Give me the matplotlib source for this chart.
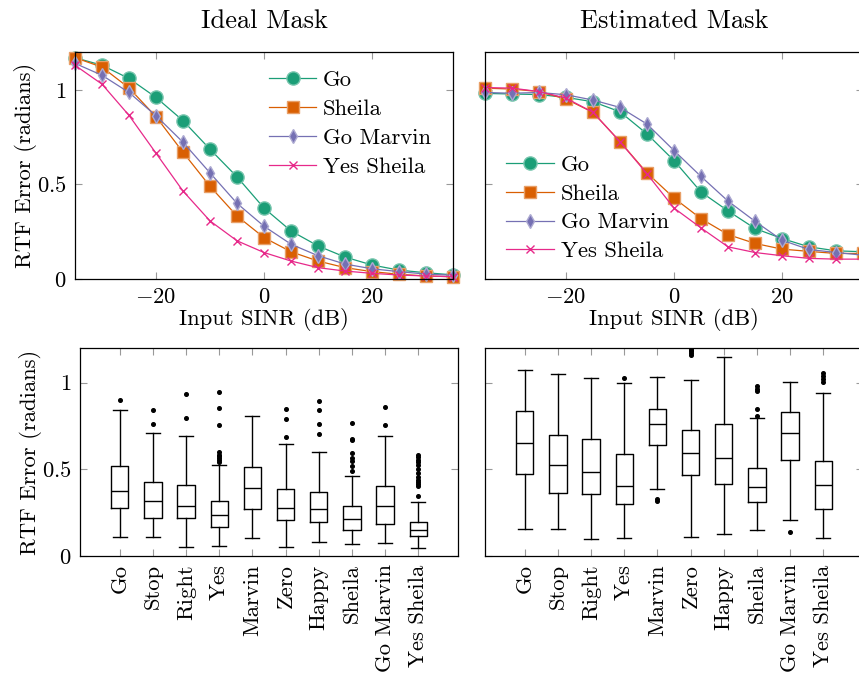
import numpy as np
import matplotlib
matplotlib.use("Agg")
from matplotlib import pyplot as plt
from matplotlib import colors as mcolors

plt.rcParams['font.family'] = 'serif'
plt.rcParams['font.serif'] = ['cmr10']
plt.rcParams['mathtext.fontset'] = 'cm'
plt.rcParams['axes.formatter.use_mathtext'] = True

# ---- data -----------------------------------------------------------
sinr = [-35, -30, -25, -20, -15, -10, -5, 0, 5, 10, 15, 20, 25, 30, 35]
series_names = ['Go', 'Sheila', 'Go Marvin', 'Yes Sheila']

ideal_go = [1.17, 1.13, 1.06, 0.96, 0.837, 0.686, 0.54, 0.375, 0.254, 0.175, 0.116, 0.074, 0.047, 0.033, 0.022]
ideal_sheila = [1.17, 1.12, 1.01, 0.858, 0.67, 0.49, 0.333, 0.219, 0.144, 0.095, 0.06, 0.039, 0.025, 0.016, 0.012]
ideal_gomarvin = [1.14, 1.077, 0.986, 0.863, 0.723, 0.561, 0.40, 0.279, 0.184, 0.123, 0.079, 0.054, 0.039, 0.026, 0.02]
ideal_yessheila = [1.13, 1.03, 0.865, 0.665, 0.465, 0.307, 0.202, 0.14, 0.095, 0.06, 0.042, 0.03, 0.021, 0.016, 0.012]

est_go = [0.981, 0.978, 0.975, 0.96, 0.937, 0.884, 0.767, 0.626, 0.46, 0.36, 0.267, 0.214, 0.17, 0.149, 0.144]
est_sheila = [1.009, 1.004, 0.991, 0.951, 0.881, 0.726, 0.561, 0.428, 0.319, 0.235, 0.188, 0.158, 0.146, 0.135, 0.135]
est_gomarvin = [0.986, 0.982, 0.986, 0.974, 0.946, 0.907, 0.819, 0.679, 0.542, 0.412, 0.305, 0.205, 0.156, 0.14, 0.126]
est_yessheila = [1.012, 1.009, 0.991, 0.956, 0.881, 0.726, 0.556, 0.375, 0.27, 0.17, 0.14, 0.123, 0.109, 0.105, 0.105]

words = ['Go', 'Stop', 'Right', 'Yes', 'Marvin', 'Zero', 'Happy', 'Sheila', 'Go Marvin', 'Yes Sheila']

# box stats: (whislo, q1, med, q3, whishi)
ideal_box = [
    (0.11, 0.275, 0.375, 0.521, 0.842),
    (0.112, 0.219, 0.319, 0.427, 0.708),
    (0.052, 0.217, 0.29, 0.412, 0.692),
    (0.06, 0.169, 0.235, 0.319, 0.523),
    (0.102, 0.273, 0.394, 0.515, 0.81),
    (0.05, 0.206, 0.279, 0.387, 0.646),
    (0.081, 0.194, 0.271, 0.369, 0.602),
    (0.067, 0.152, 0.213, 0.288, 0.463),
    (0.075, 0.187, 0.29, 0.404, 0.69),
    (0.046, 0.115, 0.15, 0.196, 0.31),
]
ideal_fliers = [
    [0.902],
    [0.76, 0.844],
    [0.796, 0.933],
    [0.545, 0.555, 0.565, 0.575, 0.585, 0.6, 0.758, 0.856, 0.948],
    [],
    [0.687, 0.792, 0.85],
    [0.706, 0.763, 0.844, 0.894],
    [0.49, 0.519, 0.548, 0.567, 0.594, 0.667, 0.673, 0.767],
    [0.756, 0.858],
    [0.346, 0.405, 0.415, 0.425, 0.44, 0.455, 0.48, 0.5, 0.525, 0.54, 0.555, 0.57, 0.585],
]

est_box = [
    (0.158, 0.475, 0.65, 0.838, 1.071),
    (0.158, 0.363, 0.525, 0.70, 1.048),
    (0.098, 0.358, 0.487, 0.673, 1.027),
    (0.104, 0.302, 0.404, 0.59, 0.996),
    (0.385, 0.642, 0.76, 0.848, 1.033),
    (0.112, 0.465, 0.594, 0.729, 1.013),
    (0.127, 0.417, 0.563, 0.763, 1.148),
    (0.15, 0.31, 0.398, 0.508, 0.798),
    (0.206, 0.556, 0.712, 0.833, 1.004),
    (0.106, 0.269, 0.408, 0.548, 0.942),
]
est_fliers = [
    [],
    [],
    [],
    [1.025],
    [0.317, 0.33],
    [1.16, 1.17, 1.18, 1.19, 1.2],
    [],
    [0.81, 0.846, 0.95, 0.965, 0.98],
    [0.14],
    [1.005, 1.02, 1.04, 1.058],
]

# ---- style ----------------------------------------------------------
line_colors = ['#1b9e77', '#d95f02', '#7570b3', '#e7298a']
line_markers = ['o', 's', 'd', 'x']
marker_sizes = [9.5, 8.5, 7.2, 6]
FS = 16.3
TICKC = '0.6'


def lighter(c, f=0.4):
    r, g, b = mcolors.to_rgb(c)
    return (r + (1 - r) * f, g + (1 - g) * f, b + (1 - b) * f)


def style_axes(ax):
    ax.tick_params(which='both', direction='in', top=True, right=True,
                   length=5, width=0.8, color=TICKC, labelsize=FS, pad=6)
    for s in ax.spines.values():
        s.set_linewidth(0.9)
        s.set_color('black')


W, H = 859, 673
fig = plt.figure(figsize=(W / 100, H / 100), dpi=100)


def frac(l, r, t, b):
    return [l / W, 1 - b / H, (r - l) / W, (b - t) / H]


ax_tl = fig.add_axes(frac(75, 453, 52, 279))
ax_tr = fig.add_axes(frac(485, 863, 52, 279))
ax_bl = fig.add_axes(frac(80, 458, 348, 556))
ax_br = fig.add_axes(frac(485, 863, 348, 556))

ideal_series = [ideal_go, ideal_sheila, ideal_gomarvin, ideal_yessheila]
est_series = [est_go, est_sheila, est_gomarvin, est_yessheila]

for ax, data, title in [(ax_tl, ideal_series, 'Ideal Mask'),
                        (ax_tr, est_series, 'Estimated Mask')]:
    for name, vals, c, m, ms in zip(series_names, data, line_colors, line_markers, marker_sizes):
        ax.plot(sinr, vals, color=c, marker=m, markersize=ms, linewidth=0.9,
                markerfacecolor=c, markeredgecolor=lighter(c) if m != 'x' else c,
                markeredgewidth=1.0, label=name, clip_on=False)
    ax.set_xlim(-35, 35)
    ax.set_ylim(0, 1.2)
    ax.set_xticks([-20, 0, 20], ['$-20$', '$0$', '$20$'])
    ax.set_yticks([0, 0.5, 1], ['$0$', '$0.5$', '$1$'])
    ax.set_xlabel('Input SINR (dB)', fontsize=FS, labelpad=1)
    ax.set_title(title, fontsize=19, pad=17)
    style_axes(ax)

ax_tl.set_ylabel('RTF Error (radians)', fontsize=FS, labelpad=0)
ax_tr.tick_params(labelleft=False)

ax_tl.legend(loc='upper left', bbox_to_anchor=(0.513, 0.92), frameon=False,
             fontsize=FS, borderpad=0, handlelength=2.1, handletextpad=0.3,
             labelspacing=0.41, borderaxespad=0)
ax_tr.legend(loc='upper left', bbox_to_anchor=(0.056, 0.545), frameon=False,
             fontsize=FS, borderpad=0, handlelength=2.1, handletextpad=0.3,
             labelspacing=0.39, borderaxespad=0)

positions = np.arange(1, len(words) + 1)
for ax, boxes, fliers in [(ax_bl, ideal_box, ideal_fliers), (ax_br, est_box, est_fliers)]:
    stats = []
    for (lo, q1, med, q3, hi), fl in zip(boxes, fliers):
        stats.append(dict(whislo=lo, q1=q1, med=med, q3=q3, whishi=hi, fliers=fl))
    ax.bxp(stats, positions=positions, widths=0.52, capwidths=0.42,
           boxprops=dict(color='black', linewidth=1.0),
           medianprops=dict(color='black', linewidth=1.0),
           whiskerprops=dict(color='black', linewidth=1.0),
           capprops=dict(color='black', linewidth=1.0),
           flierprops=dict(marker='o', markersize=2.6, markerfacecolor='black',
                           markeredgecolor='black'))
    ax.set_xlim(-0.2, 11.2)
    ax.set_ylim(0, 1.2)
    ax.set_xticks(positions, words, rotation=90)
    ax.set_yticks([0, 0.5, 1], ['$0$', '$0.5$', '$1$'])
    style_axes(ax)

ax_bl.set_ylabel('RTF Error (radians)', fontsize=FS, labelpad=0)
ax_br.tick_params(labelleft=False)

fig.savefig('out.png', dpi=100)
